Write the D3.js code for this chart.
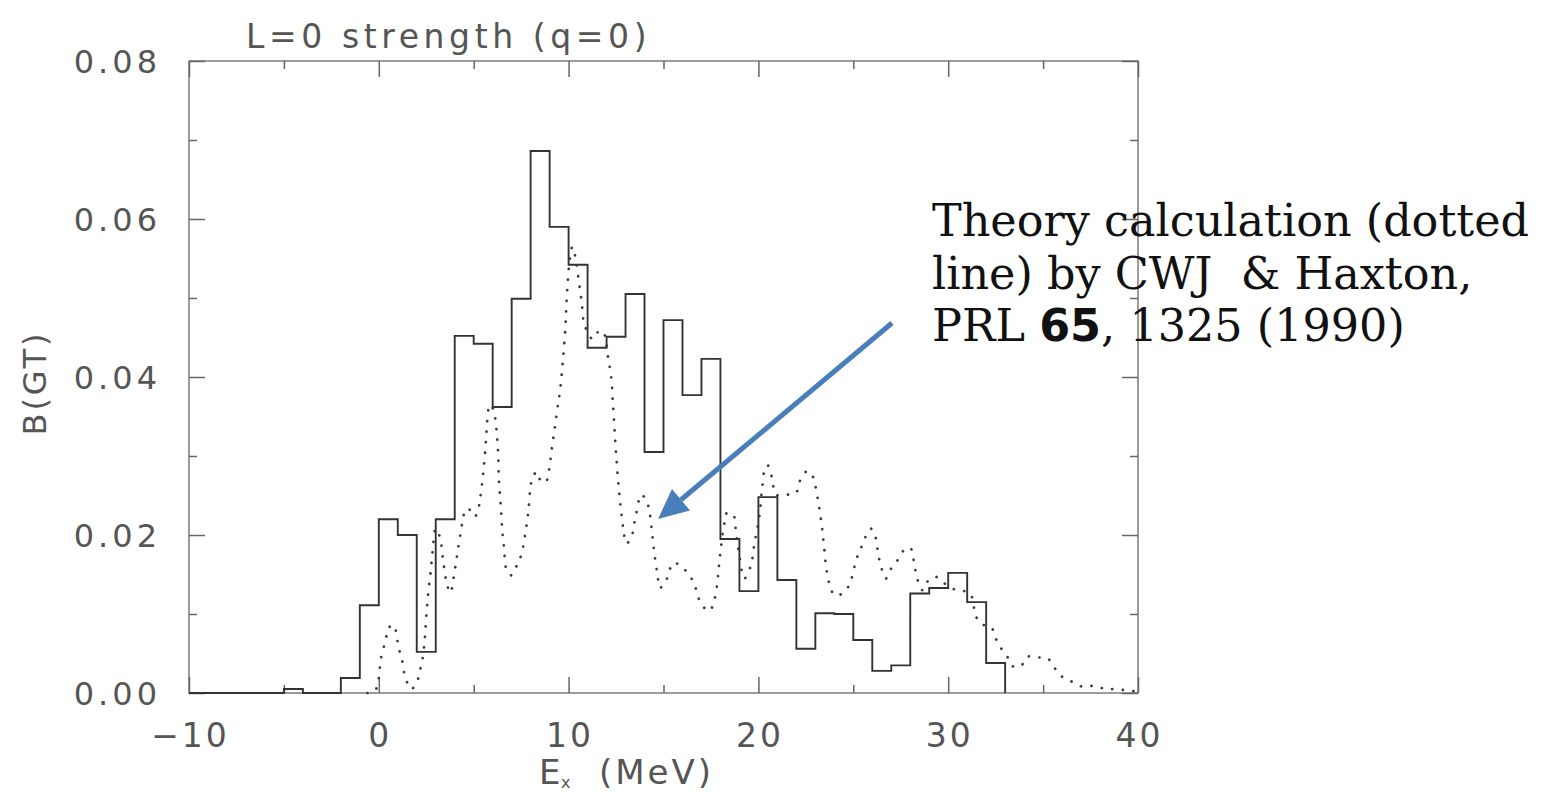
<!DOCTYPE html>
<html>
<head>
<meta charset="utf-8">
<script src="https://cdn.jsdelivr.net/npm/d3@7"></script>
<style>
  html, body { margin: 0; padding: 0; background: #fff; }
  svg { display: block; }
</style>
</head>
<body>
<svg id="chart" width="1546" height="795"></svg>
<script>
// ---------- data ----------
const histStart = -5;            // left edge of first 1-MeV bin
const histValues = [0.0005, 0, 0, 0.0019, 0.0111, 0.0220, 0.0200, 0.0052, 0.0220, 0.0452,
  0.0442, 0.0362, 0.0499, 0.0686, 0.0590, 0.0542, 0.0437, 0.0451, 0.0505, 0.0305,
  0.0472, 0.0377, 0.0423, 0.0195, 0.0129, 0.0248, 0.0143, 0.0056, 0.0101, 0.0100,
  0.0067, 0.0028, 0.0035, 0.0126, 0.0133, 0.0152, 0.0115, 0.0038];

const theoryE = [-0.6, -0.2, 0.0, 0.1, 0.37, 0.5, 0.8, 0.94, 1.05, 1.2, 1.42, 1.7, 2.0, 2.15, 2.3,
  2.42, 2.5, 2.6, 2.73, 2.84, 3.0, 3.21, 3.39, 3.56, 3.77, 4.0, 4.18, 4.35, 4.44, 4.7, 5.05,
  5.26, 5.35, 5.49, 5.6, 5.68, 5.79, 5.9, 6.1, 6.23, 6.3, 6.33, 6.42, 6.49, 6.6, 6.72, 6.98,
  7.28, 7.51, 7.72, 7.88, 7.98, 8.09, 8.33, 8.56, 8.82, 8.96, 9.12, 9.28, 9.44, 9.53, 9.7,
  9.83, 9.88, 9.95, 10.05, 10.2, 10.37, 10.54, 10.7, 10.84, 11.28, 11.63, 11.9, 12.07, 12.25,
  12.34, 12.51, 12.68, 12.83, 12.91, 13.04, 13.3, 13.53, 13.83, 14.09, 14.26, 14.4, 14.53,
  14.7, 14.79, 15.1, 15.28, 15.54, 15.93, 16.37, 16.63, 16.98, 17.42, 17.68, 17.86, 17.95,
  18.12, 18.21, 18.3, 18.65, 18.83, 19.0, 19.26, 19.61, 19.79, 20.05, 20.19, 20.37, 20.5,
  20.72, 20.93, 21.54, 21.98, 22.16, 22.51, 22.77, 22.95, 23.18, 23.35, 23.47, 23.6, 23.88,
  24.12, 24.61, 24.88, 25.17, 25.4, 25.63, 25.93, 26.16, 26.37, 26.72, 26.98, 27.33, 27.68,
  28.0, 28.16, 28.26, 28.39, 28.65, 28.91, 29.35, 29.79, 30.23, 30.61, 31.16, 31.33, 31.46,
  31.77, 32.25, 32.47, 32.72, 33.09, 33.39, 33.82, 34.18, 34.7, 35.23, 35.63, 35.98, 36.54,
  37.07, 37.68, 38.3, 38.83, 39.5, 40.0];
const theoryB = [0, 0.0003, 0.0019, 0.0042, 0.0068, 0.0082, 0.0086, 0.0071, 0.0057, 0.0044, 0.0018,
  0.0005, 0.0013, 0.0027, 0.0042, 0.0068, 0.0096, 0.0125, 0.0153, 0.0181, 0.0208, 0.0198,
  0.0168, 0.0141, 0.0127, 0.0155, 0.0183, 0.0208, 0.0223, 0.0234, 0.0223, 0.0235, 0.0248,
  0.0276, 0.0304, 0.0332, 0.0360, 0.0365, 0.0352, 0.0324, 0.0296, 0.0267, 0.0240, 0.0211,
  0.0184, 0.0157, 0.0149, 0.0162, 0.0175, 0.0202, 0.0230, 0.0258, 0.0272, 0.0280, 0.0267,
  0.0268, 0.0281, 0.0310, 0.0337, 0.0365, 0.0379, 0.0421, 0.0462, 0.0489, 0.0518, 0.0546,
  0.0565, 0.0550, 0.0521, 0.0493, 0.0466, 0.0448, 0.0459, 0.0453, 0.0426, 0.0398, 0.0365,
  0.0300, 0.0250, 0.0217, 0.0203, 0.0189, 0.0197, 0.0223, 0.0251, 0.0244, 0.0230, 0.0202,
  0.0175, 0.0147, 0.0133, 0.0140, 0.0153, 0.0165, 0.0160, 0.0149, 0.0137, 0.0113, 0.0104,
  0.0118, 0.0145, 0.0168, 0.0202, 0.0215, 0.0227, 0.0227, 0.0200, 0.0173, 0.0145, 0.0162,
  0.0189, 0.0223, 0.0258, 0.0286, 0.0288, 0.0272, 0.0251, 0.0251, 0.0253, 0.0267, 0.0280,
  0.0279, 0.0267, 0.0238, 0.0210, 0.0183, 0.0154, 0.0128, 0.0123, 0.0130, 0.0143, 0.0170,
  0.0183, 0.0197, 0.0208, 0.0198, 0.0169, 0.0145, 0.0157, 0.0168, 0.0181, 0.0184, 0.0170,
  0.0157, 0.0143, 0.0130, 0.0141, 0.0147, 0.0139, 0.0132, 0.0130, 0.0126, 0.0111, 0.0097,
  0.0087, 0.0084, 0.0071, 0.0059, 0.0047, 0.0034, 0.0034, 0.0046, 0.0045, 0.0044, 0.0031,
  0.0021, 0.0014, 0.0008, 0.0009, 0.0005, 0.0005, 0.0003, 0.0002];

const xMajorTicks = [-10, 0, 10, 20, 30, 40];
const xMinorTicks = [-5, 5, 15, 25, 35];
const yMajorTicks = [0, 0.02, 0.04, 0.06, 0.08];
const yMinorTicks = [0.01, 0.03, 0.05, 0.07];
const xTickLabels = ["\u221210", "0", "10", "20", "30", "40"];
const yTickLabels = ["0.00", "0.02", "0.04", "0.06", "0.08"];

const titleText = "L=0 strength (q=0)";
const yLabelText = "B(GT)";
const noteLine1 = "Theory calculation (dotted";
const noteLine2 = "line) by CWJ  & Haxton,";
const noteLine3 = ["PRL ", "65", ", 1325 (1990)"];

// ---------- drawing ----------
const svg = d3.select("#chart");
const L = 189, R = 1138, T = 61, B = 693;
const x = d3.scaleLinear().domain([-10, 40]).range([L, R]);
const y = d3.scaleLinear().domain([0, 0.08]).range([B, T]);

const axisCol = "#666";
const textCol = "#555";
const sansFont = "'DejaVu Sans', sans-serif";

// frame
svg.append("rect").attr("x", L).attr("y", T).attr("width", R - L).attr("height", B - T)
  .attr("fill", "none").attr("stroke", axisCol).attr("stroke-width", 1.3);

// ticks (inward) on all four sides using d3 axes
function addAxis(gen, tx, ty) {
  const g = svg.append("g").attr("transform", `translate(${tx},${ty})`).call(gen);
  g.select(".domain").remove();
  g.selectAll("line").attr("stroke", axisCol).attr("stroke-width", 1.5);
  g.selectAll("text").remove();
  return g;
}
addAxis(d3.axisTop(x).tickValues(xMajorTicks).tickSize(16), 0, B);
addAxis(d3.axisTop(x).tickValues(xMinorTicks).tickSize(8), 0, B);
addAxis(d3.axisBottom(x).tickValues(xMajorTicks).tickSize(16), 0, T);
addAxis(d3.axisBottom(x).tickValues(xMinorTicks).tickSize(8), 0, T);
addAxis(d3.axisRight(y).tickValues(yMajorTicks).tickSize(16), L, 0);
addAxis(d3.axisRight(y).tickValues(yMinorTicks).tickSize(8), L, 0);
addAxis(d3.axisLeft(y).tickValues(yMajorTicks).tickSize(16), R, 0);
addAxis(d3.axisLeft(y).tickValues(yMinorTicks).tickSize(8), R, 0);

// tick labels
svg.append("g").selectAll("text").data(xMajorTicks).join("text")
  .attr("x", d => x(d) + 1.5).attr("y", 747)
  .attr("text-anchor", "middle")
  .attr("font-family", sansFont).attr("font-size", 33)
  .attr("letter-spacing", 3)
  .attr("fill", textCol)
  .text((d, i) => xTickLabels[i]);

svg.append("g").selectAll("text").data(yMajorTicks).join("text")
  .attr("x", 161).attr("y", d => y(d) + 12)
  .attr("text-anchor", "end")
  .attr("font-family", sansFont).attr("font-size", 32)
  .attr("letter-spacing", 4)
  .attr("fill", textCol)
  .text((d, i) => yTickLabels[i]);

// title
svg.append("text").attr("x", 246).attr("y", 48)
  .attr("font-family", sansFont).attr("font-size", 33).attr("letter-spacing", 4.6)
  .attr("fill", textCol).text(titleText);

// y label
svg.append("text").attr("transform", "translate(46,383) rotate(-90)")
  .attr("text-anchor", "middle")
  .attr("font-family", sansFont).attr("font-size", 32).attr("letter-spacing", 3)
  .attr("fill", textCol).text(yLabelText);

// x label: E_x (MeV)
const xl = svg.append("g").attr("font-family", sansFont).attr("fill", textCol);
xl.append("text").attr("x", 539).attr("y", 784).attr("font-size", 34).text("E");
xl.append("text").attr("x", 561).attr("y", 788).attr("font-size", 16).text("x");
xl.append("text").attr("x", 599).attr("y", 784).attr("font-size", 34).attr("letter-spacing", 3).text("(MeV)");

// histogram (step line)
const histEnd = histStart + histValues.length;
const histPts = [[-10, 0], [histStart, 0]];
histValues.forEach((v, i) => {
  histPts.push([histStart + i, v]);
  histPts.push([histStart + i + 1, v]);
});
histPts.push([histEnd, 0]);
const stepLine = d3.line().x(d => x(d[0])).y(d => y(d[1]));
svg.append("path").datum(histPts).attr("d", stepLine)
  .attr("fill", "none").attr("stroke", "#333").attr("stroke-width", 1.9)
  .attr("stroke-linejoin", "miter");

// theory dotted curve
const theory = theoryE.map((e, i) => [e, theoryB[i]]);
const curve = d3.line().x(d => x(d[0])).y(d => y(d[1])).curve(d3.curveCatmullRom.alpha(0.5));
svg.append("path").datum(theory).attr("d", curve)
  .attr("fill", "none").attr("stroke", "#3a3a3a").attr("stroke-width", 2.7)
  .attr("stroke-linecap", "round").attr("stroke-dasharray", "0.1,10.5");

// annotation text
const serif = "'DejaVu Serif', serif";
const note = svg.append("g").attr("font-family", serif).attr("font-size", 44.5).attr("fill", "#111");
note.append("text").attr("x", 932).attr("y", 236).text(noteLine1);
note.append("text").attr("x", 932).attr("y", 289).attr("xml:space", "preserve").text(noteLine2);
const l3 = note.append("text").attr("x", 932).attr("y", 341);
l3.append("tspan").text(noteLine3[0]);
l3.append("tspan").attr("font-family", sansFont).attr("font-weight", "bold").text(noteLine3[1]);
l3.append("tspan").text(noteLine3[2]);

// arrow
const a0 = [892, 323], a1 = [658, 519];
const ang = Math.atan2(a1[1] - a0[1], a1[0] - a0[0]);
const headLen = 30, headW = 14;
const base = [a1[0] - headLen * Math.cos(ang), a1[1] - headLen * Math.sin(ang)];
svg.append("line").attr("x1", a0[0]).attr("y1", a0[1]).attr("x2", base[0]).attr("y2", base[1])
  .attr("stroke", "#4a7ebb").attr("stroke-width", 5);
const px = -Math.sin(ang), py = Math.cos(ang);
svg.append("polygon")
  .attr("points", [a1, [base[0] + headW * px, base[1] + headW * py], [base[0] - headW * px, base[1] - headW * py]]
    .map(p => p.join(",")).join(" "))
  .attr("fill", "#4a7ebb");
</script>
</body>
</html>
